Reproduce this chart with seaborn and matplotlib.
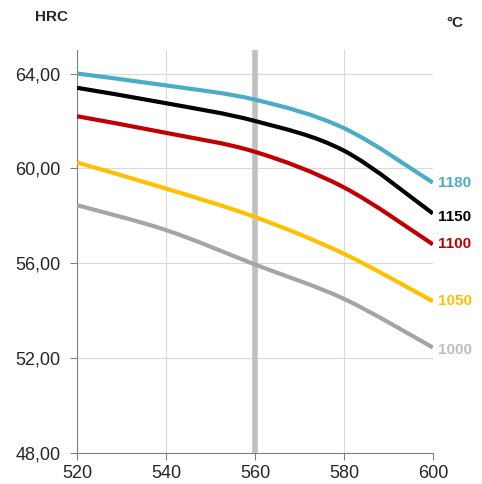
import pandas as pd
import numpy as np
import matplotlib.pyplot as plt
import seaborn as sns
from matplotlib.ticker import FuncFormatter
from matplotlib.path import Path
from matplotlib.patches import PathPatch

temper = [520, 540, 560, 580, 600]

hrc_1180 = [64.0, 63.5, 62.9, 61.7, 59.4]
hrc_1150 = [63.4, 62.75, 62.0, 60.75, 58.1]
hrc_1100 = [62.2, 61.5, 60.7, 59.2, 56.8]
hrc_1050 = [60.25, 59.15, 57.95, 56.4, 54.4]
hrc_1000 = [58.45, 57.4, 55.95, 54.5, 52.45]

series = {"1180": hrc_1180, "1150": hrc_1150, "1100": hrc_1100,
          "1050": hrc_1050, "1000": hrc_1000}
line_colors = {"1180": "#4BACC6", "1150": "#000000", "1100": "#C00000",
               "1050": "#FFC000", "1000": "#A5A5A5"}
label_colors = {"1180": "#4BACC6", "1150": "#000000", "1100": "#C00000",
                "1050": "#FFC000", "1000": "#BFBFBF"}

df = pd.DataFrame([(t, x, y) for t, vals in series.items() for x, y in zip(temper, vals)],
                  columns=["hardening", "tempering", "hrc"])


def smooth_path(xy):
    # excel-like smoothed line: catmull-rom segments as cubic bezier
    pts = np.vstack([xy[0], xy, xy[-1]])
    verts = [tuple(xy[0])]
    codes = [Path.MOVETO]
    for i in range(1, len(pts) - 2):
        p0, p1, p2, p3 = pts[i - 1], pts[i], pts[i + 1], pts[i + 2]
        c1 = p1 + (p2 - p0) / 6
        c2 = p2 - (p3 - p1) / 6
        verts += [tuple(c1), tuple(c2), tuple(p2)]
        codes += [Path.CURVE4] * 3
    return Path(verts, codes)


sns.set_style("white")
plt.rcParams["font.family"] = ["Liberation Sans", "DejaVu Sans"]

fig = plt.figure(figsize=(4.82, 4.84), dpi=100)
ax = fig.add_axes([0.16, 0.064, 0.738, 0.833])

ax.axvline(560, color="#C0C0C0", lw=4, zorder=1)
sns.lineplot(data=df, x="tempering", y="hrc", hue="hardening", palette=line_colors,
             lw=3, legend=False, ax=ax, zorder=3)

# swap the straight segments for smoothed ones
for line in ax.get_lines()[1:]:
    xy = np.asarray(line.get_xydata(), dtype=float)
    ax.add_patch(PathPatch(smooth_path(xy), fill=False, edgecolor=line.get_color(),
                           lw=3, capstyle="butt", zorder=3))
    line.set_visible(False)

ax.set_xlim(520, 600)
ax.set_ylim(48, 65)
ax.set_xticks([520, 540, 560, 580, 600])
ax.set_yticks([48, 52, 56, 60, 64])
ax.yaxis.set_major_formatter(FuncFormatter(lambda v, p: f"{v:.2f}".replace(".", ",")))
ax.grid(True, color="#D9D9D9", lw=0.8)
ax.set_axisbelow(True)
for s in ["top", "right"]:
    ax.spines[s].set_visible(False)
ax.spines["left"].set_color("#808080")
ax.spines["bottom"].set_color("#808080")
ax.tick_params(axis="both", length=5, color="#808080", labelsize=13, bottom=True, left=True)
ax.tick_params(axis="y", pad=7)
ax.set_xlabel("")
ax.set_ylabel("")

for t, vals in series.items():
    off = {"1180": 0.0, "1150": -0.15, "1100": 0.0, "1050": 0.0, "1000": -0.1}[t]
    ax.text(601.2, vals[-1] + off, t, color=label_colors[t], fontsize=11, fontweight="bold",
            va="center", ha="left", clip_on=False)

fig.text(0.072, 0.965, "HRC", fontsize=11, fontweight="bold", va="center")
fig.text(0.927, 0.953, "°C", fontsize=11, fontweight="bold", va="center")

plt.savefig("out.png", dpi=100)
